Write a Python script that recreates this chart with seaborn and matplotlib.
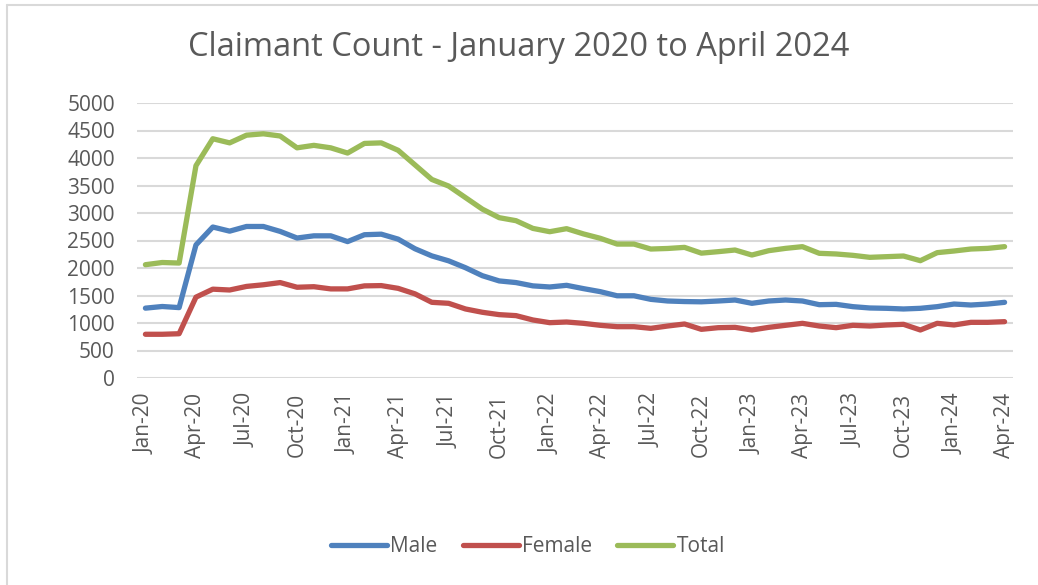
import pandas as pd
import seaborn as sns
import matplotlib.pyplot as plt
from matplotlib.lines import Line2D

# monthly claimant counts, Jan 2020 - Apr 2024
months = pd.date_range("2020-01-01", "2024-04-01", freq="MS").strftime("%b-%y").tolist()

male = [1270, 1300, 1280, 2420, 2745, 2670, 2755, 2755, 2665, 2545, 2585, 2585,
        2480, 2605, 2615, 2525, 2350, 2220, 2130, 2005, 1860, 1765, 1735, 1675,
        1655, 1685, 1625, 1570, 1495, 1495, 1430, 1400, 1390, 1385, 1400, 1418,
        1358, 1400, 1418, 1400, 1333, 1339, 1297, 1273, 1267, 1255, 1267, 1297,
        1345, 1327, 1345, 1376]
female = [795, 795, 805, 1470, 1615, 1600, 1665, 1695, 1735, 1650, 1660, 1620,
          1620, 1675, 1680, 1630, 1530, 1376, 1358, 1255, 1195, 1152, 1134, 1055,
          1006, 1018, 994, 958, 933, 933, 903, 945, 982, 885, 915, 921,
          873, 921, 958, 994, 945, 915, 958, 945, 964, 976, 873, 994,
          964, 1012, 1012, 1024]
total = [2060, 2100, 2090, 3860, 4350, 4275, 4415, 4440, 4400, 4185, 4230, 4185,
         4090, 4265, 4275, 4140, 3875, 3610, 3490, 3280, 3070, 2915, 2860, 2720,
         2660, 2715, 2620, 2540, 2435, 2435, 2345, 2355, 2375, 2270, 2297, 2327,
         2236, 2315, 2357, 2388, 2267, 2255, 2230, 2194, 2206, 2218, 2133, 2279,
         2309, 2345, 2357, 2388]

series = ["Male", "Female", "Total"]
colors = ["#4F81BD", "#C0504D", "#9BBB59"]

df = pd.DataFrame({"idx": range(len(months)), "Male": male, "Female": female, "Total": total})
long = df.melt(id_vars="idx", value_vars=series, var_name="series", value_name="count")

sns.set_style("white")
plt.rcParams["font.family"] = ["Open Sans", "DejaVu Sans"]
txt = "#595959"
grid = "#D9D9D9"

fig = plt.figure(figsize=(10.38, 5.85), dpi=100)
ax = fig.add_axes([137/1038, 1 - 378/585, (1013 - 137)/1038, (378 - 103)/585])

sns.lineplot(data=long, x="idx", y="count", hue="series", hue_order=series,
             palette=colors, linewidth=3.8, ax=ax, legend=False)
for ln in ax.lines:
    ln.set_solid_capstyle("round")
    ln.set_solid_joinstyle("round")

ax.set_xlim(-0.5, len(months) - 0.5)
ax.set_ylim(0, 5000)
ax.set_yticks(range(0, 5001, 500))
ax.set_xticks(range(0, len(months), 3))
ax.set_xticklabels(months[::3], rotation=90)
ax.tick_params(axis="both", length=0, labelsize=15, colors=txt)
ax.tick_params(axis="y", pad=16)
ax.tick_params(axis="x", pad=11)
ax.yaxis.grid(True, color=grid, linewidth=1.5)
ax.set_axisbelow(True)
for s in ax.spines.values():
    s.set_visible(False)
ax.set_xlabel("")
ax.set_ylabel("")

fig.text(0.5, 1 - 48/585, "Claimant Count - January 2020 to April 2024",
         ha="center", va="center", fontsize=23.5, color=txt)

handles = [Line2D([0], [0], color=c, lw=3.8, solid_capstyle="round") for c in colors]
fig.legend(handles, series, loc="center", bbox_to_anchor=(528/1038, 1 - 547/585),
           ncol=3, frameon=False, fontsize=15, labelcolor=txt,
           handlelength=2.7, handletextpad=0.15, columnspacing=1.2)

# chart border
fig.add_artist(Line2D([7/1038, 1.0], [1 - 5/585, 1 - 5/585], transform=fig.transFigure,
                      color=grid, lw=1.5))
fig.add_artist(Line2D([7/1038, 7/1038], [0, 1 - 5/585], transform=fig.transFigure,
                      color=grid, lw=1.5))

fig.savefig("out.png", dpi=100)
